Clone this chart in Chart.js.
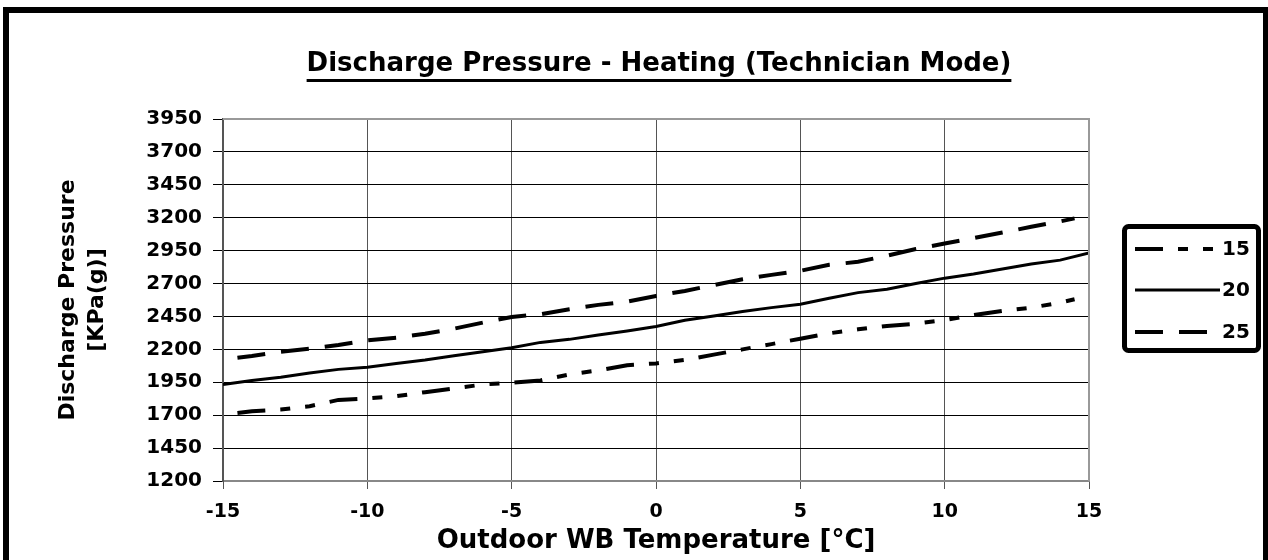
<!DOCTYPE html>
<html>
<head>
<meta charset="utf-8">
<title>Discharge Pressure - Heating</title>
<script src="https://cdn.jsdelivr.net/npm/chart.js@4/dist/chart.umd.min.js"></script>
<style>
  body { margin: 0; background: #fff; }
  canvas { display: block; }
</style>
</head>
<body>
<canvas id="dpChart" width="1268" height="560"></canvas>
<script>
// 데이터
const seriesNames = ['15', '20', '25'];
const tempsFull = [-15, -14, -13, -12, -11, -10, -9, -8, -7, -6, -5, -4, -3, -2, -1, 0,
                   1, 2, 3, 4, 5, 6, 7, 8, 9, 10, 11, 12, 13, 14, 15];
const tempsShort = [-14.5, -14, -13, -12, -11, -10, -9, -8, -7, -6, -5, -4, -3, -2, -1, 0,
                    1, 2, 3, 4, 5, 6, 7, 8, 9, 10, 11, 12, 13, 14, 14.5];
const pressure15 = [1717, 1730, 1743, 1768, 1816, 1827, 1844, 1875, 1903, 1933, 1946, 1964, 2010, 2040, 2080, 2093,
                    2120, 2160, 2200, 2240, 2281, 2322, 2352, 2378, 2395, 2423, 2461, 2492, 2517, 2555, 2581];
const pressure20 = [1933, 1964, 1989, 2020, 2048, 2065, 2093, 2119, 2151, 2182, 2212, 2253, 2276, 2309, 2340, 2374,
                    2421, 2454, 2487, 2517, 2543, 2589, 2631, 2657, 2700, 2741, 2772, 2810, 2848, 2878, 2932];
const pressure25 = [2136, 2149, 2182, 2205, 2233, 2269, 2289, 2319, 2357, 2403, 2446, 2467, 2505, 2538, 2563, 2606,
                    2644, 2688, 2733, 2766, 2797, 2842, 2865, 2911, 2962, 3004, 3045, 3088, 3131, 3172, 3195];
const xTicks = [-15, -10, -5, 0, 5, 10, 15];
const yMin = 1200, yMax = 3950, yStep = 250;

const FONT = '"DejaVu Sans", "Liberation Sans", Arial, sans-serif';
const pts = (xs, ys) => xs.map((x, i) => ({ x: x, y: ys[i] }));

// 바깥 테두리, 제목, 범례 그리기
const decorPlugin = {
    id: 'decor',
    afterDraw(chart) {
        const c = chart.ctx;
        const a = chart.chartArea;
        c.save();
        // 플롯 위/오른쪽 테두리
        c.strokeStyle = '#999';
        c.lineWidth = 2;
        c.beginPath();
        c.moveTo(a.left, a.top);
        c.lineTo(a.right, a.top);
        c.lineTo(a.right, a.bottom);
        c.stroke();

        // 바깥 테두리
        c.strokeStyle = '#000';
        c.lineWidth = 6;
        c.strokeRect(6, 10, 1260, 600);

        // 제목 + 밑줄
        const title = 'Discharge Pressure - Heating (Technician Mode)';
        c.font = 'bold 26px ' + FONT;
        c.fillStyle = '#000';
        c.textAlign = 'center';
        c.textBaseline = 'alphabetic';
        const tx = 659;
        c.fillText(title, tx, 71);
        const tw = c.measureText(title).width;
        c.fillRect(tx - tw / 2, 79, tw, 3);

        // 범례 상자
        c.lineWidth = 5;
        c.beginPath();
        c.roundRect(1124.5, 226.5, 134, 124, 4);
        c.stroke();
        const rowsY = [249, 290, 332];
        chart.data.datasets.forEach((ds, i) => {
            c.save();
            c.lineWidth = ds.borderWidth;
            c.lineCap = 'butt';
            c.setLineDash(ds.borderDash || []);
            c.beginPath();
            c.moveTo(1135, rowsY[i]);
            c.lineTo(ds.borderDash && ds.borderDash.length ? 1214 : 1220, rowsY[i]);
            c.stroke();
            c.restore();
            c.font = 'bold 20px ' + FONT;
            c.textAlign = 'left';
            c.textBaseline = 'middle';
            c.fillText(ds.label, 1222, rowsY[i] + 1);
        });
        c.restore();
    }
};

new Chart(document.getElementById('dpChart'), {
    type: 'line',
    data: {
        datasets: [{
            label: seriesNames[0],
            data: pts(tempsShort, pressure15),
            borderColor: '#000',
            borderWidth: 4,
            borderDash: [28, 15, 10, 15, 10, 15]
        }, {
            label: seriesNames[1],
            data: pts(tempsFull, pressure20),
            borderColor: '#000',
            borderWidth: 3
        }, {
            label: seriesNames[2],
            data: pts(tempsShort, pressure25),
            borderColor: '#000',
            borderWidth: 4,
            borderDash: [28, 16]
        }]
    },
    options: {
        responsive: false,
        animation: false,
        layout: { padding: { top: 119, right: 179, left: 0, bottom: 0 } },
        elements: {
            point: { radius: 0 },
            line: { tension: 0, borderCapStyle: 'butt', fill: false }
        },
        plugins: {
            legend: { display: false },
            tooltip: { enabled: false }
        },
        scales: {
            x: {
                type: 'linear',
                min: -15,
                max: 15,
                afterFit: (s) => { s.height = 79; },
                afterBuildTicks: (s) => { s.ticks = xTicks.map(v => ({ value: v })); },
                ticks: {
                    color: '#000',
                    font: { family: FONT, size: 19, weight: 'bold' },
                    padding: 12,
                    maxRotation: 0,
                    callback: (v) => String(v)
                },
                grid: { color: '#555', lineWidth: 1, tickLength: 8, tickColor: '#555' },
                border: { color: '#888', width: 2 },
                title: {
                    display: true,
                    text: 'Outdoor WB Temperature [°C]',
                    color: '#000',
                    font: { family: FONT, size: 26, weight: 'bold', lineHeight: 1.2 },
                    padding: { top: 0, bottom: 3 }
                }
            },
            y: {
                min: yMin,
                max: yMax,
                afterFit: (s) => { s.width = 223; },
                ticks: {
                    stepSize: yStep,
                    color: '#000',
                    font: { family: FONT, size: 20, weight: 'bold' },
                    padding: 11,
                    callback: (v) => String(v)
                },
                grid: { color: '#000', lineWidth: 1, tickLength: 10, tickColor: '#000' },
                border: { color: '#555', width: 2 },
                title: {
                    display: true,
                    text: ['Discharge Pressure', '[KPa(g)]'],
                    color: '#000',
                    font: { family: FONT, size: 22, weight: 'bold', lineHeight: 1.3 },
                    padding: { top: 54, bottom: 0 }
                }
            }
        }
    },
    plugins: [decorPlugin]
});
</script>
</body>
</html>
